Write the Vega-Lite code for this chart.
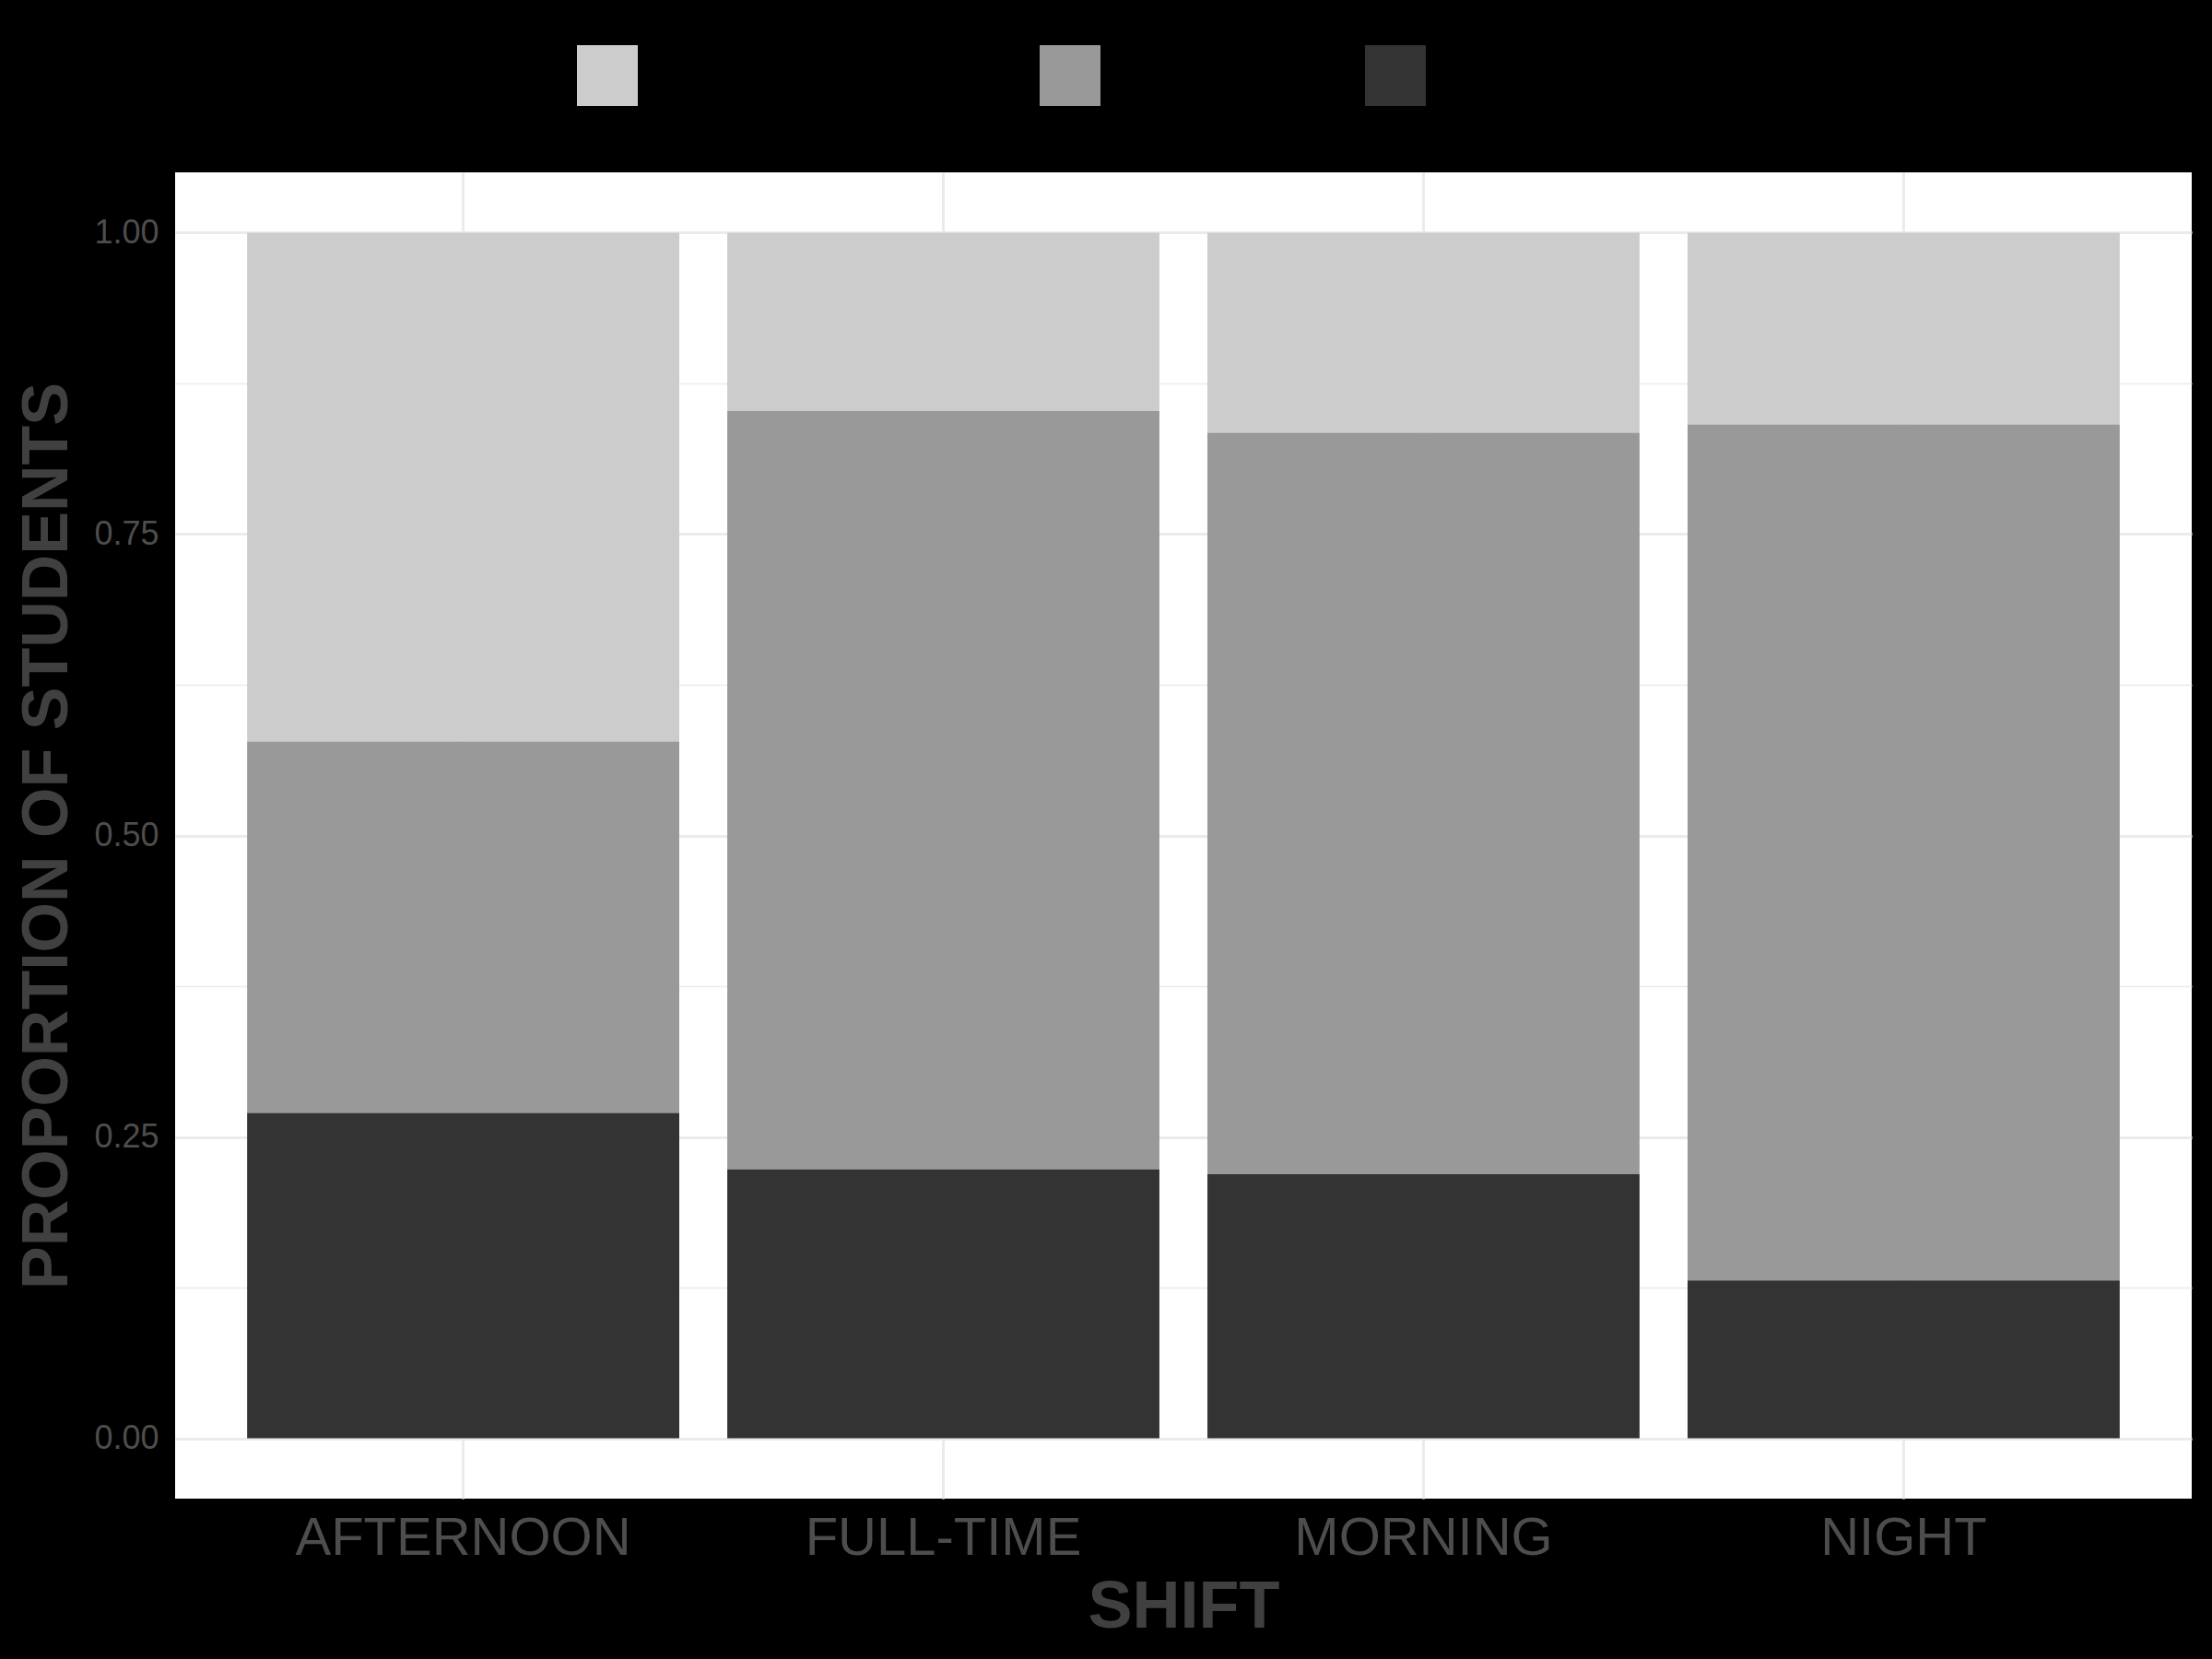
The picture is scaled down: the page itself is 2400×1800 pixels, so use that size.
{
  "$schema": "https://vega.github.io/schema/vega-lite/v6.json",
  "width": 2188,
  "height": 1439,
  "autosize": "none",
  "padding": {"left": 190, "top": 187, "right": 22, "bottom": 174},
  "background": "#000000",
  "config": {
    "font": "Liberation Sans",
    "view": {"fill": "#FFFFFF", "stroke": null}
  },
  "data": {
    "values": [
      {"shift": "AFTERNOON", "level": "ABOVE AVERAGE", "prop": 0.422},
      {"shift": "AFTERNOON", "level": "AVERAGE", "prop": 0.308},
      {"shift": "AFTERNOON", "level": "BELOW AVERAGE", "prop": 0.270},
      {"shift": "FULL-TIME", "level": "ABOVE AVERAGE", "prop": 0.148},
      {"shift": "FULL-TIME", "level": "AVERAGE", "prop": 0.629},
      {"shift": "FULL-TIME", "level": "BELOW AVERAGE", "prop": 0.223},
      {"shift": "MORNING", "level": "ABOVE AVERAGE", "prop": 0.166},
      {"shift": "MORNING", "level": "AVERAGE", "prop": 0.615},
      {"shift": "MORNING", "level": "BELOW AVERAGE", "prop": 0.219},
      {"shift": "NIGHT", "level": "ABOVE AVERAGE", "prop": 0.159},
      {"shift": "NIGHT", "level": "AVERAGE", "prop": 0.710},
      {"shift": "NIGHT", "level": "BELOW AVERAGE", "prop": 0.131}
    ]
  },
  "mark": {"type": "bar"},
  "encoding": {
    "x": {
      "field": "shift",
      "type": "nominal",
      "scale": {"paddingInner": 0.1, "paddingOuter": 0.15},
      "axis": {
        "title": "SHIFT",
        "labelAngle": 0,
        "labelFontSize": 58,
        "labelLimit": 2000,
        "labelColor": "#4D4D4D",
        "labelPadding": 14,
        "ticks": false,
        "domain": false,
        "grid": true,
        "gridColor": "#EBEBEB",
        "gridWidth": 3,
        "bandPosition": 0.5,
        "titleFontSize": 72,
        "titleFontWeight": "bold",
        "titleColor": "#404040",
        "titlePadding": 10
      }
    },
    "y": {
      "field": "prop",
      "type": "quantitative",
      "stack": "normalize",
      "scale": {"domain": [-0.05, 1.05], "nice": false, "zero": false},
      "axis": {
        "title": "PROPORTION OF STUDENTS",
        "values": [0, 0.125, 0.25, 0.375, 0.5, 0.625, 0.75, 0.875, 1],
        "labelExpr": "(datum.value * 4) % 1 === 0 ? format(datum.value, '.2f') : ''",
        "labelFontSize": 36,
        "labelColor": "#4D4D4D",
        "labelPadding": 18,
        "ticks": false,
        "domain": false,
        "grid": true,
        "gridColor": "#EBEBEB",
        "gridWidth": {"condition": {"test": "(datum.value * 4) % 1 === 0", "value": 3}, "value": 1.5},
        "titleFontSize": 70,
        "titleFontWeight": "bold",
        "titleColor": "#404040",
        "titlePadding": 14
      }
    },
    "color": {
      "field": "level",
      "type": "nominal",
      "scale": {
        "domain": ["ABOVE AVERAGE", "AVERAGE", "BELOW AVERAGE"],
        "range": ["#CCCCCC", "#999999", "#333333"]
      },
      "legend": {
        "title": null,
        "orient": "none",
        "direction": "horizontal",
        "legendX": 436,
        "legendY": -138,
        "padding": 0,
        "symbolType": "square",
        "symbolSize": 4356,
        "symbolStrokeWidth": 0,
        "symbolOpacity": 1,
        "labelFontSize": 40,
        "labelLimit": 2000,
        "labelColor": "#000000",
        "labelOffset": 30,
        "columnPadding": 66
      }
    },
    "order": {"field": "level", "sort": "descending"}
  }
}
